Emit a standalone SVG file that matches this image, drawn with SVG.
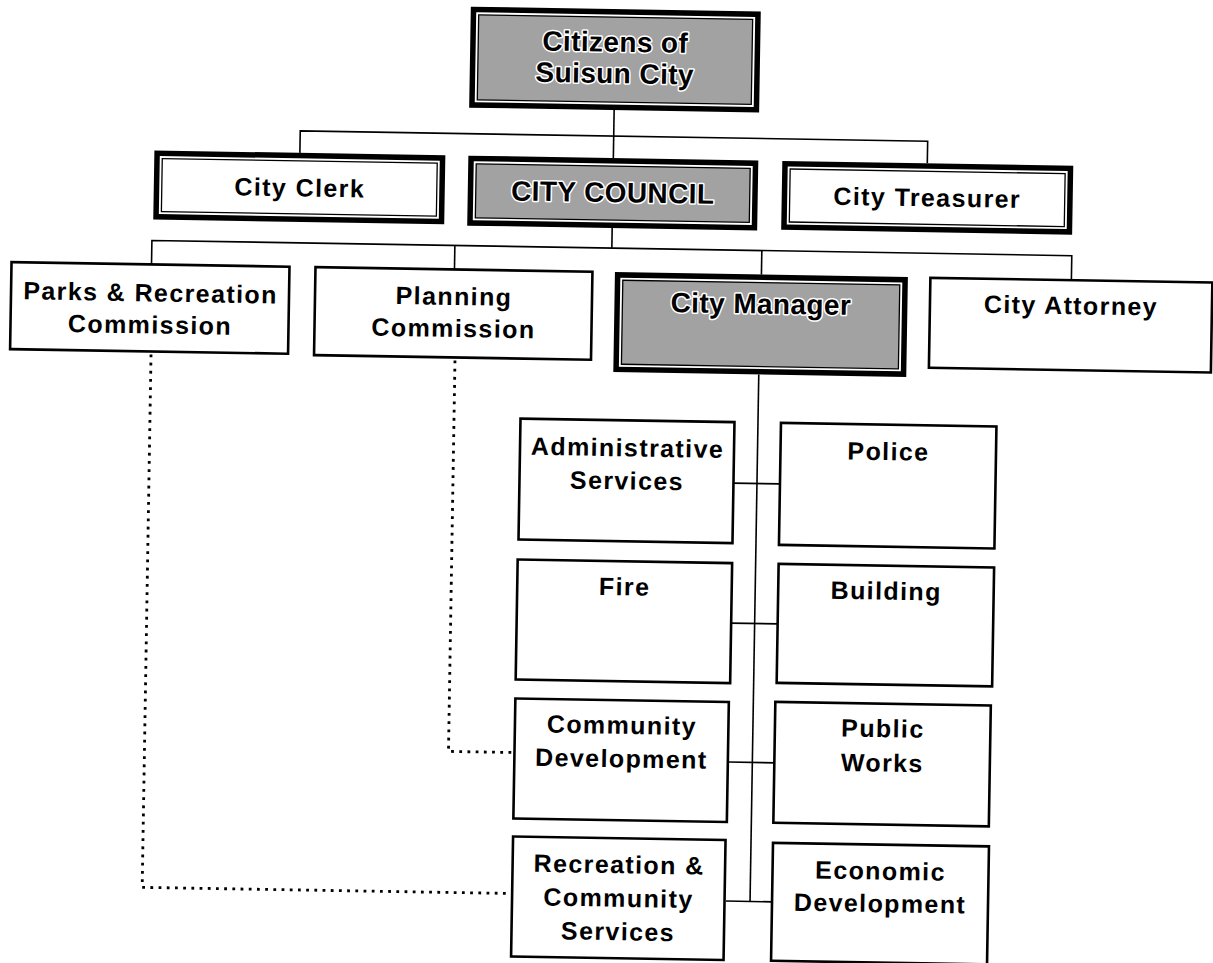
<svg xmlns="http://www.w3.org/2000/svg" width="1213" height="963" viewBox="0 0 1213 963">
<style>
.bg{fill:#fff}
.thick{fill:#fff;stroke:#000;stroke-width:5.5}
.inner{fill:#fff;stroke:#000;stroke-width:1.3}
.innerg{fill:#a2a2a2;stroke:#000;stroke-width:1.3}
.box{fill:#fff;stroke:#000;stroke-width:2.6}
.t{font-family:"Liberation Sans",Arial,sans-serif;font-weight:bold;font-size:25px;letter-spacing:1.4px;fill:#000;text-anchor:middle}
.tg{font-family:"Liberation Sans",Arial,sans-serif;font-weight:bold;font-size:28px;letter-spacing:0.4px;fill:#000;stroke:#fff;stroke-width:3px;paint-order:stroke;stroke-linejoin:round;text-anchor:middle}
.ln{fill:none;stroke:#000;stroke-width:1.6}
.dot{fill:none;stroke:#000;stroke-width:2.8;stroke-dasharray:2.8 5.4}
</style>
<rect class="bg" x="0" y="0" width="1213" height="963"/>
<g transform="rotate(0.95 606 480)">
<g id="connectors">
<path class="ln" d="M608 110 V158"/>
<path class="ln" d="M294.5 158 V136 H922 V158"/>
<path class="ln" d="M608 228 V248"/>
<path class="ln" d="M148 272 V248 H1068 V272.5"/>
<path class="ln" d="M451 248 V272"/>
<path class="ln" d="M758 248 V272"/>
<path class="ln" d="M757 372 V899"/>
<path class="ln" d="M733 481 H780"/>
<path class="ln" d="M733 621 H780"/>
<path class="ln" d="M733 760 H780"/>
<path class="ln" d="M733 899 H780"/>
<path class="dot" d="M149 362 V895 H516"/>
<path class="dot" d="M453 363 V754 H516"/>
</g>
<g id="citizens">
<rect class="thick" x="465.75" y="11.75" width="284.5" height="95.5"/>
<rect class="innerg" x="471" y="17" width="274" height="85"/>
<text class="tg" x="608" y="51.5">Citizens of</text>
<text class="tg" x="608" y="83">Suisun City</text>
</g>
<g id="city-clerk">
<rect class="thick" x="151.75" y="160.75" width="285.5" height="63.5"/>
<rect class="inner" x="157" y="166" width="275" height="53"/>
<text class="t" x="295" y="201.5">City Clerk</text>
</g>
<g id="city-council">
<rect class="thick" x="465.75" y="160.75" width="284.5" height="64.5"/>
<rect class="innerg" x="471" y="166" width="274" height="54"/>
<text class="tg" x="608" y="202">CITY COUNCIL</text>
</g>
<g id="city-treasurer">
<rect class="thick" x="779.75" y="160.75" width="285.5" height="63.5"/>
<rect class="inner" x="785" y="166" width="275" height="53"/>
<text class="t" x="922.5" y="201">City Treasurer</text>
</g>
<g id="parks-rec-commission">
<rect class="box" x="8" y="272" width="278" height="87"/>
<text class="t" x="147.5" y="309">Parks &amp; Recreation</text>
<text class="t" x="147.5" y="341">Commission</text>
</g>
<g id="planning-commission">
<rect class="box" x="312" y="272" width="277" height="88"/>
<text class="t" x="451" y="307.5">Planning</text>
<text class="t" x="451" y="339.5">Commission</text>
</g>
<g id="city-manager">
<rect class="thick" x="614.25" y="274.75" width="287.5" height="94.5"/>
<rect class="innerg" x="619.5" y="280" width="277" height="84"/>
<text class="tg" x="758" y="311">City Manager</text>
</g>
<g id="city-attorney">
<rect class="box" x="927" y="272.5" width="282" height="90"/>
<text class="t" x="1068" y="306.5">City Attorney</text>
</g>
<g id="administrative-services">
<rect class="box" x="519.5" y="420" width="214" height="121"/>
<text class="t" x="627" y="456">Administrative</text>
<text class="t" x="627" y="489">Services</text>
</g>
<g id="police">
<rect class="box" x="780" y="420" width="215.5" height="122"/>
<text class="t" x="888" y="455.5">Police</text>
</g>
<g id="fire">
<rect class="box" x="519" y="561" width="214.5" height="120"/>
<text class="t" x="626.5" y="595">Fire</text>
</g>
<g id="building">
<rect class="box" x="780" y="561" width="215.5" height="119"/>
<text class="t" x="888" y="595">Building</text>
</g>
<g id="community-development">
<rect class="box" x="519" y="700" width="213.5" height="120"/>
<text class="t" x="626" y="733.5">Community</text>
<text class="t" x="626" y="767">Development</text>
</g>
<g id="public-works">
<rect class="box" x="779" y="699" width="215.5" height="121"/>
<text class="t" x="887" y="732.5">Public</text>
<text class="t" x="887" y="767">Works</text>
</g>
<g id="recreation-community-services">
<rect class="box" x="519" y="838" width="212.5" height="120"/>
<text class="t" x="625.5" y="873">Recreation &amp;</text>
<text class="t" x="625.5" y="906.5">Community</text>
<text class="t" x="625.5" y="940">Services</text>
</g>
<g id="economic-development">
<rect class="box" x="779" y="840" width="216" height="118"/>
<text class="t" x="887" y="875">Economic</text>
<text class="t" x="887" y="907.5">Development</text>
</g>
</g>
</svg>
